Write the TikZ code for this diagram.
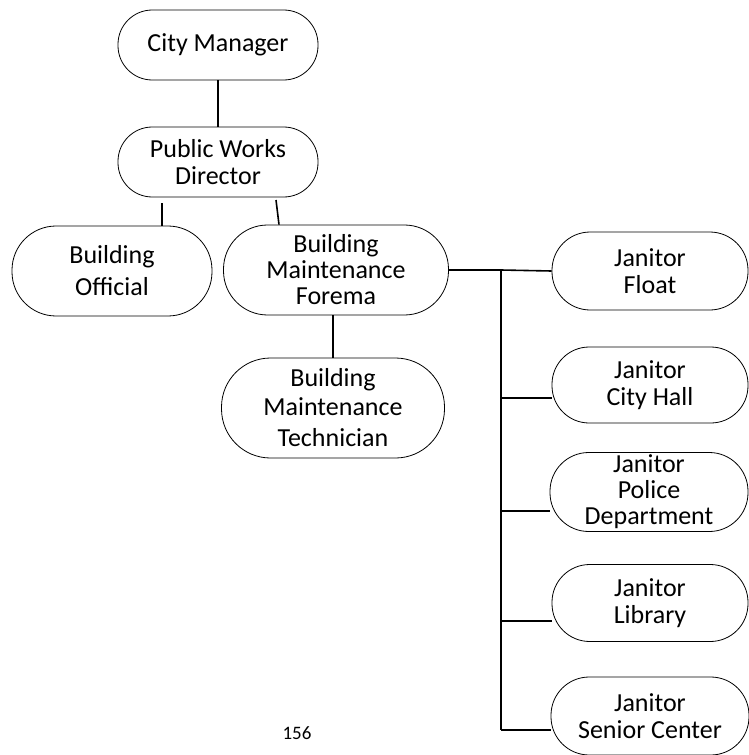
\documentclass[tikz,border=0pt]{standalone}
\usepackage{fontspec}
\setmainfont{Carlito}
\tikzset{box/.style 2 args={draw, rectangle, align=center, inner sep=0pt, minimum width=#1, minimum height=#2, rounded corners=0.49*#2, line width=0.8pt},
	link/.style={line width=1.6pt}}
\begin{document}
\begin{tikzpicture}[x=1pt,y=-1pt,font=\fontsize{26}{27}\selectfont]
	\useasboundingbox (0,0) rectangle (749,755);
\node[box={200pt}{70pt}] (cm) at (218,45) {City Manager};
\node[box={200pt}{70pt}] (pwd) at (218,162) {Public Works\\Director};
\node[box={200pt}{90pt}] (bo) at (112,271) {Building\\[5pt]Official};
\node[box={225pt}{90pt}] (bmf) at (336,270) {Building\\[-1pt]Maintenance\\[-1pt]Forema};
\node[box={223pt}{100pt}] (bmt) at (333,408) {Building\\[2pt]Maintenance\\[4pt]Technician};
\node[box={196pt}{78pt}] (jf) at (650,271) {Janitor\\Float};
\node[box={196pt}{76pt}] (jch) at (650,385) {Janitor\\City Hall};
\node[box={198pt}{79pt}] (jpd) at (649,492) {Janitor\\[-1pt]Police\\[-1pt]Department};
\node[box={196pt}{77pt}] (jl) at (650,603) {Janitor\\Library};
\node[box={198pt}{78pt}] (jsc) at (650,716) {Janitor\\Senior Center};
\node[font=\fontsize{19}{20}\selectfont] (page) at (297,733) {156};
\coordinate (bo top) at (162,203);
\coordinate (bmf top) at (276,200);
\coordinate (bus) at (501,270);
\coordinate (jch in) at ([yshift=-13pt]jch.west);
\coordinate (jpd in) at ([yshift=-19pt]jpd.west);
\coordinate (jl in) at ([yshift=-18pt]jl.west);
\coordinate (jsc in) at ([yshift=-14pt]jsc.west);
\draw [link](cm)--(pwd);
\draw [link](bo top)--(bo top |- bo.north);
\draw [link](bmf top)--([xshift=-57pt]bmf.north);
\draw [link](bmt.north |- bmf.south)--(bmt.north);
\draw [link](bmf.east)--(bus)--(jf.west);
\draw [link](bus)--(bus |- jsc in);
\foreach \j in {jch,jpd,jl,jsc}
	\draw [link](\j\space in -| bus)--(\j\space in);
	\end{tikzpicture}
\end{document}
